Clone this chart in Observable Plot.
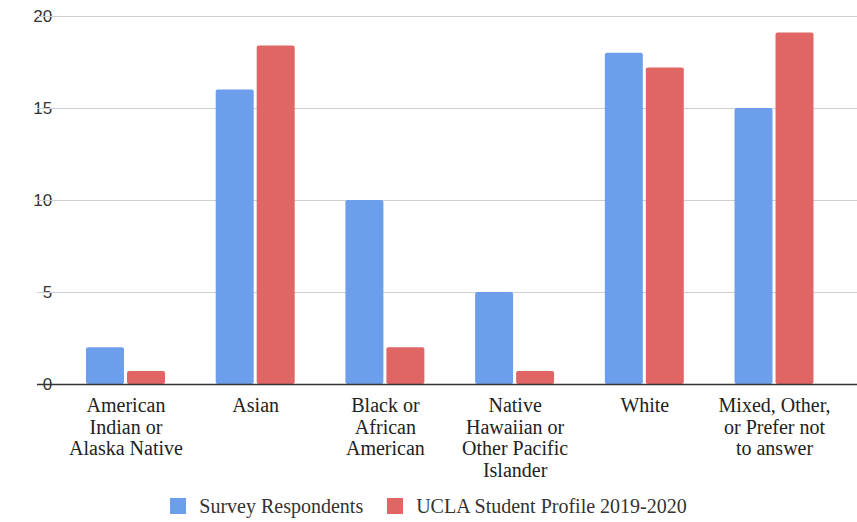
<!DOCTYPE html>
<html>
<head>
<meta charset="utf-8">
<script src="https://cdn.jsdelivr.net/npm/d3@7"></script>
<script src="https://cdn.jsdelivr.net/npm/@observablehq/plot@0.6"></script>
<style>
  html, body { margin: 0; padding: 0; background: #fff; }
  #chart { width: 857px; }
  #chart g[aria-label="text"] text { font-family: "Liberation Serif", "Times New Roman", serif; }
  #chart g[aria-label="y-axis tick label"] text { font-family: "Liberation Sans", Arial, sans-serif; }
  #legend { width: 857px; height: 32px; display: flex; justify-content: center; align-items: center; }
  #legend .leg-swatches { font-family: "Liberation Serif", "Times New Roman", serif !important; font-size: 20px !important; color: #333 !important; margin: 0 !important; min-height: 0 !important; }
  #legend .leg-swatch { margin-right: 24px !important; }
  #legend .leg-swatch:last-child { margin-right: 0 !important; }
  #legend .leg-swatch > svg { margin-right: 13px !important; border-radius: 2px; }
</style>
</head>
<body>
<div id="chart"></div>
<div id="legend"></div>
<script>
// Race / ethnicity categories and their wrapped axis labels
const categories = [
  "American Indian or Alaska Native",
  "Asian",
  "Black or African American",
  "Native Hawaiian or Other Pacific Islander",
  "White",
  "Mixed, Other, or Prefer not to answer"
];
const categoryLabels = [
  "American\nIndian or\nAlaska Native",
  "Asian",
  "Black or\nAfrican\nAmerican",
  "Native\nHawaiian or\nOther Pacific\nIslander",
  "White",
  "Mixed, Other,\nor Prefer not\nto answer"
];

// Series
const seriesNames = ["Survey Respondents", "UCLA Student Profile 2019-2020"];
const surveyRespondents = [2, 16, 10, 5, 18, 15];
const uclaStudentProfile = [0.7, 18.4, 2, 0.7, 17.2, 19.1];
const seriesColors = ["#6d9eeb", "#e06666"];

// Y axis
const yDomain = [0, 20];
const yTicks = [0, 5, 10, 15, 20];

// Long-format table for grouped bars
const rows = categories.flatMap((c, i) => [
  {category: c, series: seriesNames[0], value: surveyRespondents[i]},
  {category: c, series: seriesNames[1], value: uclaStudentProfile[i]}
]);
const labelOf = new Map(categories.map((c, i) => [c, categoryLabels[i]]));

// Layout
const width = 857, height = 490;
const marginLeft = 37, marginRight = 0;
const fxOptions = {paddingInner: 0, paddingOuter: 0.161, align: 0.566};

// Same band layout as the fx scale, used to stretch the horizontal rules
// from the first (or last) facet across the full plotting width.
const fxBand = d3.scaleBand(categories, [marginLeft, width - marginRight])
  .paddingInner(fxOptions.paddingInner)
  .paddingOuter(fxOptions.paddingOuter)
  .align(fxOptions.align);
const bw = fxBand.bandwidth();
const firstStart = fxBand(categories[0]);
const lastStart = fxBand(categories[categories.length - 1]);

const plot = Plot.plot({
  width,
  height,
  marginTop: 16,
  marginLeft,
  marginRight,
  marginBottom: 106,
  style: {
    fontFamily: "'Liberation Sans', Arial, sans-serif",
    fontSize: "17px",
    color: "#333",
    background: "#fff"
  },
  facet: {data: rows, x: "category"},
  fx: {domain: categories, ...fxOptions, round: false, axis: null, label: null},
  x: {domain: seriesNames, paddingInner: 0, paddingOuter: 0.582, round: false, axis: null, label: null},
  y: {domain: yDomain, ticks: yTicks, tickSize: 0, tickPadding: 9, label: null},
  color: {domain: seriesNames, range: seriesColors},
  marks: [
    // horizontal gridlines, drawn once from the leftmost facet
    Plot.ruleY(yTicks.filter(t => t > 0), {
      facetAnchor: "left",
      stroke: "#cfcfcf",
      strokeWidth: 1.2,
      insetLeft: -(firstStart - marginLeft),
      insetRight: -(width - marginRight - firstStart - bw)
    }),
    Plot.barY(rows, {x: "series", y: "value", fill: "series", insetLeft: 1.5, insetRight: 1.5, rx: 2}),
    // baseline, drawn once from the rightmost facet so it sits above every bar
    Plot.ruleY([0], {
      facetAnchor: "right",
      stroke: "#333",
      strokeWidth: 1.6,
      insetLeft: -(lastStart - marginLeft),
      insetRight: -(width - marginRight - lastStart - bw)
    }),
    // category labels under each group
    Plot.text(rows, {
      filter: d => d.series === seriesNames[0],
      text: d => labelOf.get(d.category),
      frameAnchor: "bottom",
      lineAnchor: "top",
      dy: 12,
      lineHeight: 1.085,
      fontFamily: "'Liberation Serif', 'Times New Roman', serif",
      fontSize: 20,
      fill: "#222"
    })
  ]
});

document.getElementById("chart").appendChild(plot);
document.getElementById("legend").appendChild(
  plot.legend("color", {className: "leg", swatchSize: 16})
);
</script>
</body>
</html>
